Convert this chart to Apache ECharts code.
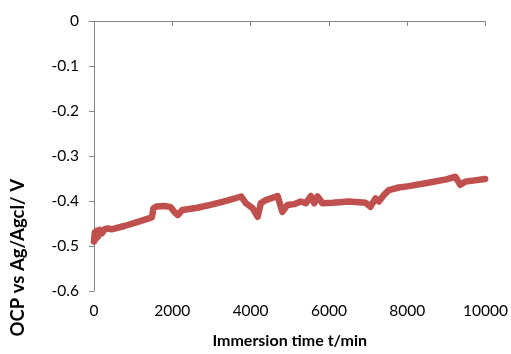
<!DOCTYPE html>
<html>
<head>
<meta charset="utf-8">
<script src="https://cdn.jsdelivr.net/npm/echarts@6/dist/echarts.min.js"></script>
<style>
  html, body { margin: 0; padding: 0; background: #fff; }
  #chart { width: 511px; height: 354px; }
</style>
</head>
<body>
<div id="chart"></div>
<script>
// immersion time (min) and OCP (V)
const times = [0, 20, 40, 70, 100, 150, 200, 280, 360, 450, 800, 1100, 1420, 1480,
  1520, 1600, 1800, 1950, 2060, 2140, 2260, 2640, 3000, 3400, 3760, 3880, 4050,
  4180, 4260, 4390, 4690, 4810, 4940, 5110, 5280, 5410, 5540, 5625, 5710, 5835,
  6100, 6510, 6935, 7060, 7190, 7275, 7400, 7530, 7785, 8040, 8500, 9000, 9230,
  9355, 9480, 9990];
const ocp = [-0.49, -0.47, -0.485, -0.466, -0.48, -0.464, -0.472, -0.462, -0.461,
  -0.463, -0.455, -0.447, -0.438, -0.436, -0.416, -0.412, -0.411, -0.413, -0.425,
  -0.431, -0.42, -0.415, -0.408, -0.399, -0.39, -0.405, -0.416, -0.435, -0.405,
  -0.398, -0.389, -0.424, -0.409, -0.407, -0.401, -0.405, -0.389, -0.405, -0.39,
  -0.405, -0.404, -0.401, -0.404, -0.413, -0.394, -0.401, -0.387, -0.376, -0.37,
  -0.367, -0.36, -0.352, -0.346, -0.364, -0.357, -0.351];
const xTicks = [0, 2000, 4000, 6000, 8000, 10000];
const yTicks = [0, -0.1, -0.2, -0.3, -0.4, -0.5, -0.6];

const fontFamily = 'Lato, "Open Sans", sans-serif';
const axisGray = '#868686';

const chart = echarts.init(document.getElementById('chart'));
chart.setOption({
  animation: false,
  grid: { left: 94, top: 21, right: 24, bottom: 63 },
  xAxis: {
    type: 'value',
    min: xTicks[0],
    max: xTicks[xTicks.length - 1],
    interval: 2000,
    name: 'Immersion time t/min',
    nameLocation: 'middle',
    nameGap: 42,
    nameTextStyle: { fontFamily, fontSize: 16, fontWeight: 'bold', color: '#000' },
    axisLine: { lineStyle: { color: axisGray, width: 1 } },
    axisTick: { show: true, length: 5, lineStyle: { color: axisGray } },
    axisLabel: { fontFamily, fontSize: 15.5, color: '#000', margin: 12, formatter: v => String(v) },
    splitLine: { show: false }
  },
  yAxis: {
    type: 'value',
    min: yTicks[yTicks.length - 1],
    max: yTicks[0],
    interval: 0.1,
    axisLine: { show: true, onZero: false, lineStyle: { color: axisGray, width: 1 } },
    axisTick: { show: true, length: 5, lineStyle: { color: axisGray } },
    axisLabel: {
      fontFamily, fontSize: 15.5, color: '#000', margin: 15,
      formatter: v => String(Math.round(v * 10) / 10)
    },
    splitLine: { show: false }
  },
  graphic: [{
    type: 'text',
    left: 9,
    top: 179,
    rotation: Math.PI / 2,
    style: {
      text: 'OCP vs Ag/Agcl/ V',
      font: 'bold 18.5px ' + fontFamily,
      fill: '#000'
    }
  }],
  series: [{
    type: 'line',
    data: times.map((t, i) => [t, ocp[i]]),
    showSymbol: false,
    lineStyle: { color: '#C0504D', width: 6.5, join: 'round', cap: 'round' },
    itemStyle: { color: '#C0504D' }
  }]
});
</script>
</body>
</html>
